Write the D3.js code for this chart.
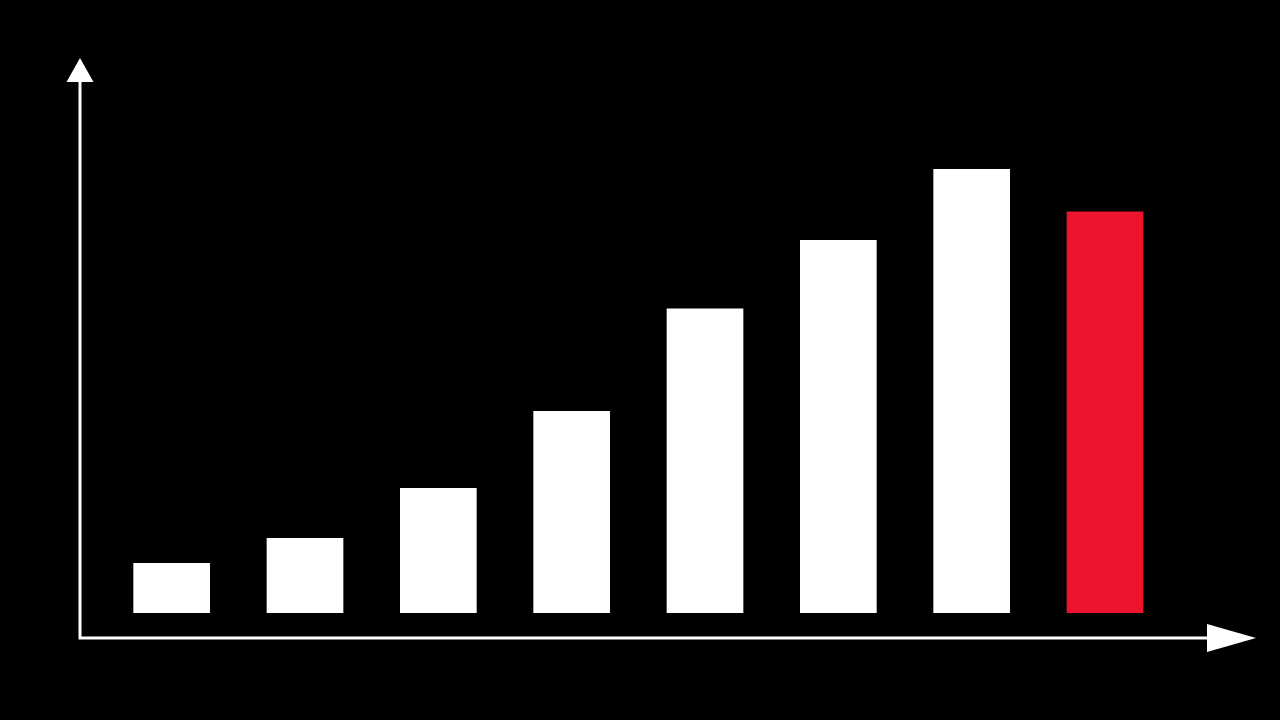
<!DOCTYPE html>
<html>
<head>
<meta charset="utf-8">
<script src="https://cdn.jsdelivr.net/npm/d3@7"></script>
<style>
  html, body { margin: 0; padding: 0; background: #000; }
  svg { display: block; }
</style>
</head>
<body>
<div id="chart"></div>
<script>
// chart data
const categories = ['1', '2', '3', '4', '5', '6', '7', '8'];
const values = [5.0, 7.5, 12.5, 20.2, 30.45, 37.3, 44.4, 40.15];
const highlighted = ['8'];

const width = 1280;
const height = 720;
const origin = {x: 80, y: 638};
const baseline = 613;

const svg = d3.select('#chart')
  .append('svg')
  .attr('width', width)
  .attr('height', height)
  .attr('viewBox', `0 0 ${width} ${height}`);

svg.append('rect')
  .attr('width', width)
  .attr('height', height)
  .attr('fill', '#000');

// scales
const x = d3.scaleBand()
  .domain(categories)
  .range([105, 1171.67])
  .paddingInner(0.425)
  .paddingOuter(0.2125);

const y = d3.scaleLinear()
  .domain([0, 50])
  .range([baseline, baseline - 500]);

// bars
svg.append('g')
  .selectAll('rect')
  .data(categories.map((c, i) => ({label: c, value: values[i]})))
  .enter()
  .append('rect')
  .attr('x', d => x(d.label))
  .attr('y', d => y(d.value))
  .attr('width', x.bandwidth())
  .attr('height', d => y(0) - y(d.value))
  .attr('fill', d => highlighted.includes(d.label) ? '#EF142D' : '#fff');

// axes with arrow heads
const axis = svg.append('g').attr('fill', '#fff').attr('stroke', '#fff');

axis.append('path')
  .attr('fill', 'none')
  .attr('stroke-width', 3)
  .attr('d', `M${origin.x},82 L${origin.x},${origin.y} L1208,${origin.y}`);

axis.append('path')
  .attr('stroke', 'none')
  .attr('d', `M${origin.x},58 L${origin.x + 13.5},82 L${origin.x - 13.5},82 Z`);

axis.append('path')
  .attr('stroke', 'none')
  .attr('d', `M1256,${origin.y} L1207,${origin.y - 14} L1207,${origin.y + 14} Z`);
</script>
</body>
</html>
